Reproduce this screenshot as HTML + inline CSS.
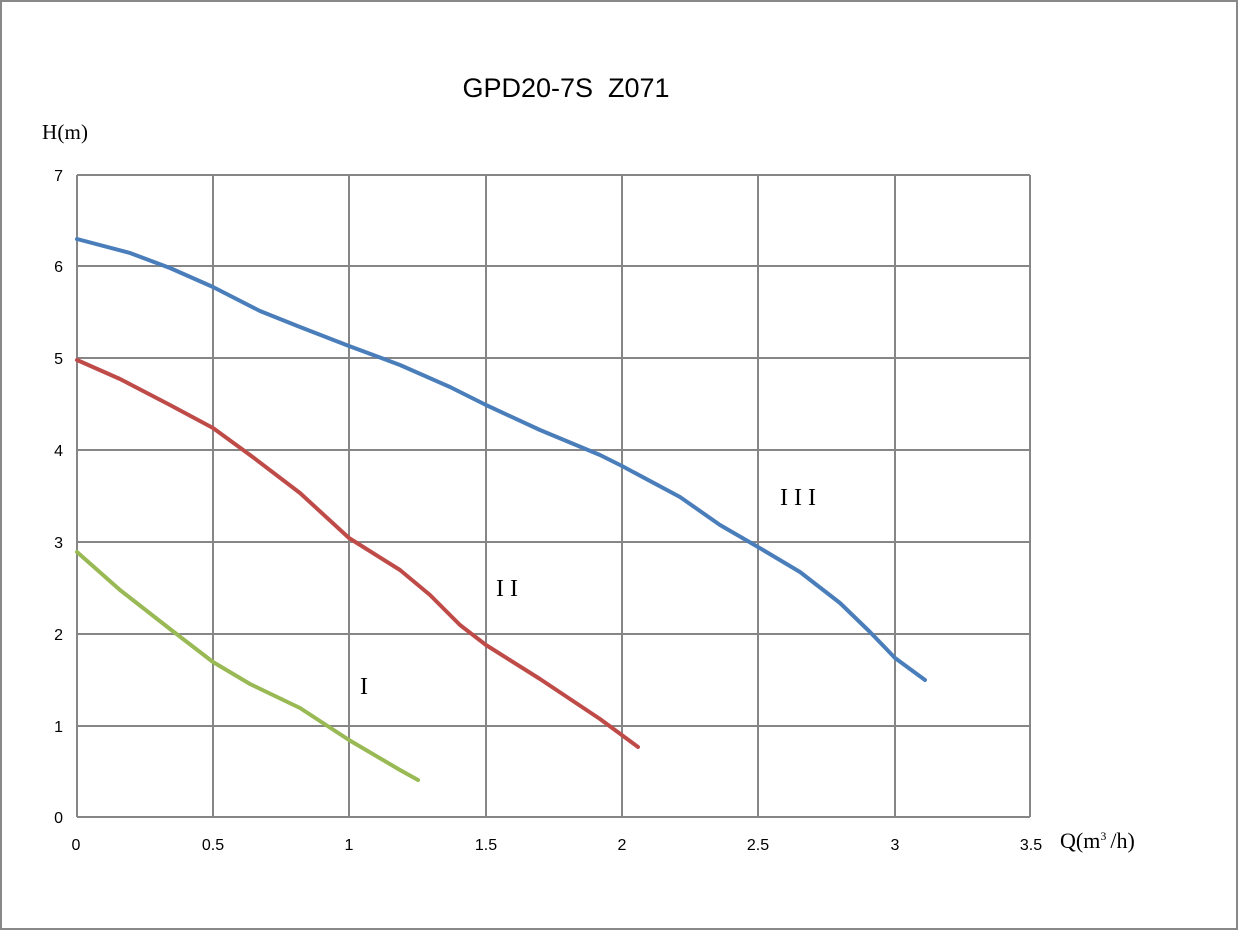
<!DOCTYPE html>
<html><head><meta charset="utf-8"><style>html,body{margin:0;padding:0;background:#fff}svg{display:block}</style></head>
<body>
<svg width="1239" height="931" viewBox="0 0 1239 931" xmlns="http://www.w3.org/2000/svg">
<rect x="1" y="1" width="1236" height="928" fill="#fff" stroke="#888" stroke-width="2"/>
<g stroke="#868686" stroke-width="2" fill="none">
<path d="M77 175V817M213 175V817M349 175V817M486 175V817M622 175V817M758 175V817M895 175V817M1030 175V817"/>
<path d="M77 175H1030M77 266H1030M77 358H1030M77 450H1030M77 542H1030M77 634H1030M77 726H1030M77 817H1030"/>
</g>
<g font-family="'Liberation Sans',sans-serif" font-size="16" fill="#000">
<text x="63" y="181" text-anchor="end">7</text>
<text x="63" y="272" text-anchor="end">6</text>
<text x="63" y="364" text-anchor="end">5</text>
<text x="63" y="456" text-anchor="end">4</text>
<text x="63" y="548" text-anchor="end">3</text>
<text x="63" y="640" text-anchor="end">2</text>
<text x="63" y="732" text-anchor="end">1</text>
<text x="63" y="823" text-anchor="end">0</text>
<g text-anchor="middle">
<text x="76" y="850">0</text><text x="213" y="850">0.5</text><text x="349" y="850">1</text><text x="486" y="850">1.5</text><text x="622" y="850">2</text><text x="758" y="850">2.5</text><text x="895" y="850">3</text><text x="1031" y="850">3.5</text>
</g>
<text x="566" y="97" font-size="27" text-anchor="middle">GPD20-7S&#160;&#160;Z071</text>
</g>
<g font-family="'Liberation Serif',serif" fill="#000">
<text x="42" y="139" font-size="21" textLength="46">H(m)</text>
<text x="1060" y="848" font-size="22">Q(m<tspan font-size="12" dy="-8">3</tspan><tspan dy="8" dx="4">/h)</tspan></text>
<text x="780" y="505" font-size="24" letter-spacing="6">III</text>
<text x="496" y="596" font-size="24" letter-spacing="6">II</text>
<text x="360" y="694" font-size="24">I</text>
</g>
<g fill="none" stroke-width="4" stroke-linecap="round" stroke-linejoin="round">
<polyline stroke="#4a7ebb" points="77,239 130,253 170,268 213,287 260,311 300,327 349,346 400,365 450,387 486,405 540,430 600,455 622,466 680,497 720,525 758,547 800,572 840,603 870,632 895,658 925,680"/>
<polyline stroke="#be4b48" points="77,360 120,379 170,405 213,428 250,455 300,493 349,538 400,570 430,595 460,625 486,645 540,679 600,719 638,747"/>
<polyline stroke="#98b954" points="77,552 120,590 170,629 213,662 250,684 300,708 349,740 400,770 418,780"/>
</g>
</svg>
</body></html>
